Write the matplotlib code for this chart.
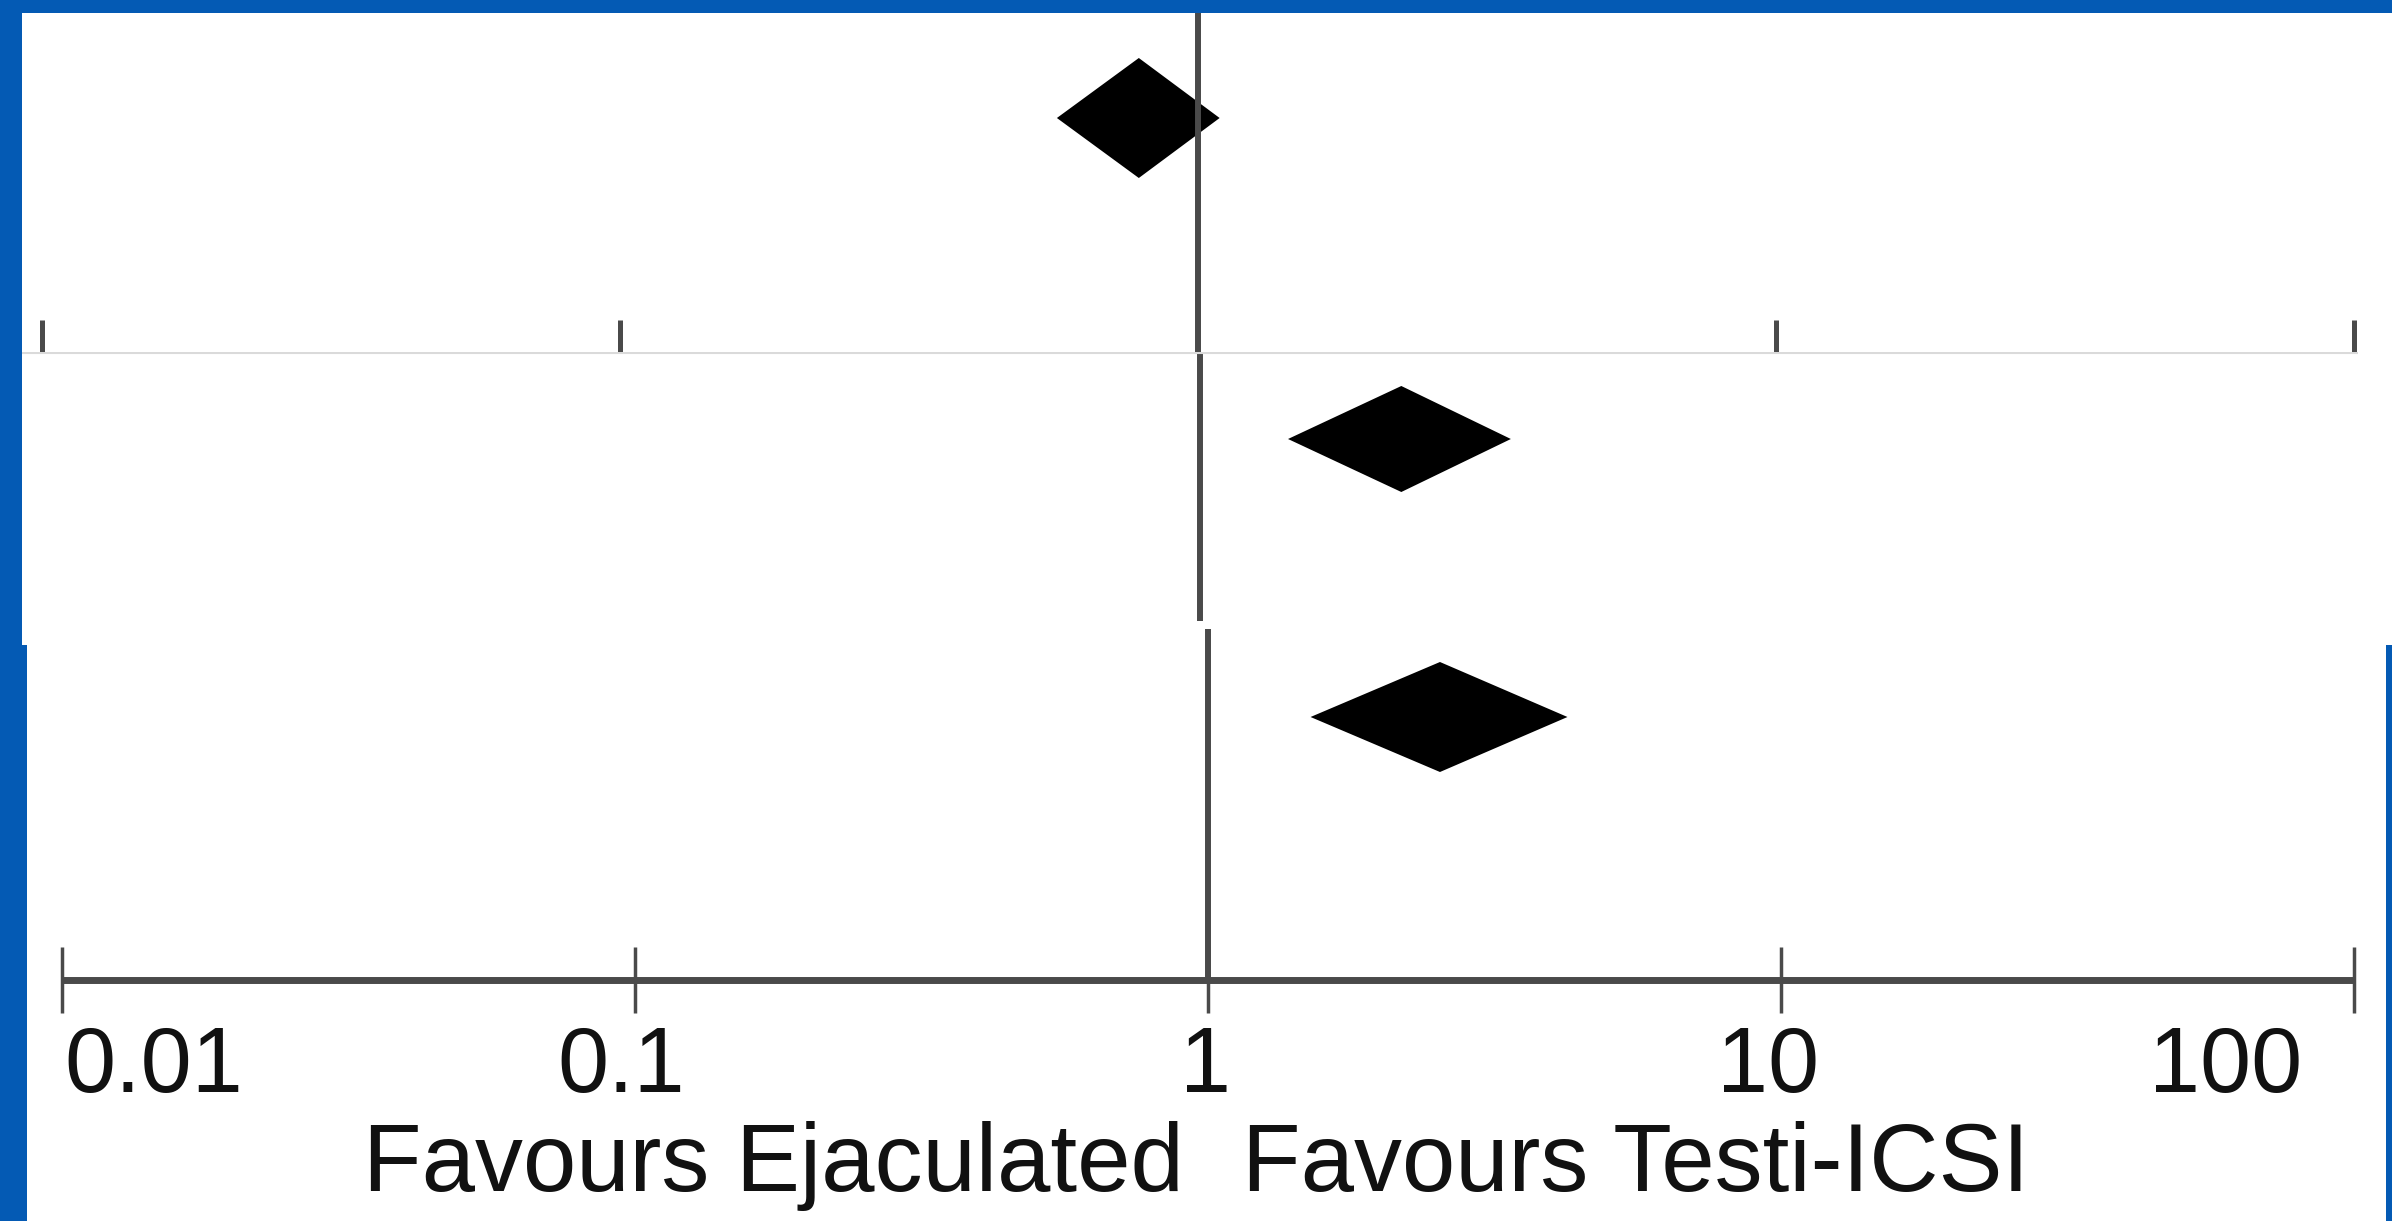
import matplotlib
matplotlib.use('Agg')
import matplotlib.pyplot as plt

# pooled odds ratios per panel: lower CI, estimate, upper CI
or_low = [0.57, 1.42, 1.51]
or_est = [0.79, 2.23, 2.54]
or_high = [1.09, 3.45, 4.24]

tick_vals = [0.01, 0.1, 1, 10, 100]
tick_labels = ['0.01', '0.1', '1', '10', '100']
label_left = 'Favours Ejaculated'
label_right = 'Favours Testi-ICSI'

W, H = 2392, 1221
blue = '#045AB4'
grey = '#4a4a4a'
font = ['Liberation Sans', 'DejaVu Sans']

fig = plt.figure(figsize=(W / 100, H / 100), dpi=100, facecolor=blue)


def panel(left, top, right, bottom, x_one, decade):
    # one pasted strip of the forest plot, placed in pixel units
    ax = fig.add_axes([left / W, 1 - bottom / H, (right - left) / W, (bottom - top) / H])
    ax.set_xscale('log')
    ax.set_xlim(10 ** ((left - x_one) / decade), 10 ** ((right - x_one) / decade))
    ax.set_ylim(bottom, top)
    ax.set_facecolor('white')
    ax.tick_params(which='both', bottom=False, left=False, labelbottom=False, labelleft=False)
    for s in ax.spines.values():
        s.set_visible(False)
    return ax


ax1 = panel(22, 13, 2392, 645, 1198, 578)
ax2 = panel(22, 352, 2358, 645, 1200, 578)
ax3 = panel(27, 625, 2386, 1221, 1208, 573)

# top strip: line of no effect + ticks of an axis hidden under the next strip
ax1.vlines(1, 13, 352, color=grey, lw=4.3)
ax1.vlines([0.01, 0.1, 10, 100], 320, 352, color=grey, lw=3.6)

# middle strip
ax2.vlines(1, 352, 621, color=grey, lw=4.3)
ax2.axhline(353, color='#dadada', lw=1.5)

# bottom strip with the visible axis
ax3.vlines(1, 629, 980, color=grey, lw=4.3)
ax3.plot([0.01, 100], [980, 980], color=grey, lw=5, solid_capstyle='butt')
ax3.vlines(tick_vals, 947, 1013, color=grey, lw=2.5)

row_y = [118, 439, 717]
half_h = [60, 53, 55]
axes = [ax1, ax2, ax3]
for ax, lo, est, hi, yc, hh in zip(axes, or_low, or_est, or_high, row_y, half_h):
    ax.fill([lo, est, hi, est], [yc, yc - hh, yc, yc + hh], color='black', lw=0)

tick_ha = ['left', 'center', 'center', 'center', 'right']
tick_dx = [2, -14, -3, -13, -52]
for v, lab, ha, dx in zip(tick_vals, tick_labels, tick_ha, tick_dx):
    ax3.annotate(lab, (v, 1092), xytext=(dx, 0), textcoords='offset pixels',
                 ha=ha, va='baseline', fontsize=66, family=font, color='#111111')

ax3.annotate(label_left, (1, 1191), xytext=(-24, 0), textcoords='offset pixels',
             ha='right', va='baseline', fontsize=69, family=font, color='#111111')
ax3.annotate(label_right, (1, 1191), xytext=(34, 0), textcoords='offset pixels',
             ha='left', va='baseline', fontsize=69, family=font, color='#111111')

fig.savefig('out.png', dpi=100, facecolor=blue)
